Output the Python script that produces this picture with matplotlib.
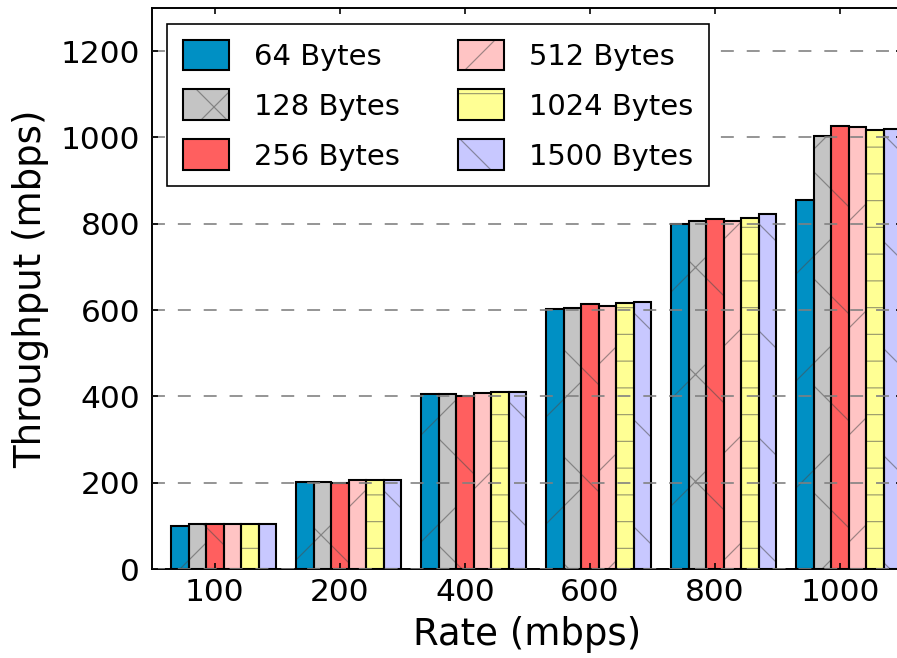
import numpy as np
import matplotlib
matplotlib.use("Agg")
import matplotlib.pyplot as plt
from matplotlib.backend_bases import GraphicsContextBase

# ---- data -------------------------------------------------------------
rates = ["100", "200", "400", "600", "800", "1000"]
sizes = ["64 Bytes", "128 Bytes", "256 Bytes", "512 Bytes", "1024 Bytes", "1500 Bytes"]
tp_64 = [100, 201, 404, 602, 799, 855]
tp_128 = [104, 201, 404, 605, 806, 1003]
tp_256 = [104, 200, 401, 614, 810, 1026]
tp_512 = [104, 205, 407, 609, 806, 1023]
tp_1024 = [103, 206, 410, 616, 813, 1016]
tp_1500 = [105, 207, 409, 618, 821, 1019]
y_ticks = [0, 200, 400, 600, 800, 1000, 1200]

series = [tp_64, tp_128, tp_256, tp_512, tp_1024, tp_1500]
colors = ["#0090c4", "#c4c4c4", "#ff5f5f", "#ffc4c4", "#ffff94", "#c8c8ff"]
hatches = ["/", "x", "\\", "/", "--", "\\"]

# coarser hatch tiles than the library default
_hatch_path = GraphicsContextBase.get_hatch_path


def _coarse_hatch_path(self, density=2.0):
    return _hatch_path(self, density)


GraphicsContextBase.get_hatch_path = _coarse_hatch_path

plt.rcParams.update({
    "font.family": "DejaVu Sans",
    "font.size": 21,
    "hatch.linewidth": 0.8,
    "lines.scale_dashes": False,
    "xtick.direction": "in",
    "ytick.direction": "in",
    "xtick.top": True,
    "ytick.right": True,
    "xtick.major.size": 4,
    "ytick.major.size": 4,
    "xtick.major.pad": 6,
    "ytick.major.pad": 8,
    "axes.linewidth": 1.3,
})

DPI = 107
W, H = 897, 658
fig = plt.figure(figsize=((W + 0.4) / DPI, (H + 0.4) / DPI), dpi=DPI)
ax = fig.add_axes([152 / W, 89 / H, 750 / W, 561 / H])

width = 0.14
x = np.arange(len(rates))
hatch_col = (0.3, 0.3, 0.3, 0.55)
handles = []
for k, (vals, col, hat) in enumerate(zip(series, colors, hatches)):
    fill = ax.bar(x + k * width, vals, width, align="edge", color=col,
                  edgecolor=hatch_col, linewidth=0, hatch=hat, zorder=1)
    edge = ax.bar(x + k * width, vals, width, align="edge", fill=False,
                  edgecolor="black", linewidth=1.4, zorder=1.1)
    handles.append((fill.patches[0], edge.patches[0]))

ax.set_xlim(-0.152, 5.848)
ax.set_ylim(0, 1300)
ax.set_xticks(x + 2.5 * width)
ax.set_xticklabels(rates)
ax.set_yticks(y_ticks)
ax.set_axisbelow(False)
ax.yaxis.grid(True, linestyle=(0, (8.7, 8.7)), color="#808080", linewidth=1.1)
ax.tick_params(width=1.1)

ax.set_xlabel("Rate (mbps)", fontsize=25, labelpad=6)
ax.set_ylabel("Throughput (mbps)", fontsize=25, labelpad=8)

leg = ax.legend(handles, sizes, ncol=2, loc="upper left", fontsize=19.5,
                bbox_to_anchor=(167 / W, 1 - 24 / H), bbox_transform=fig.transFigure,
                borderaxespad=0, fancybox=False, framealpha=1, edgecolor="black",
                handlelength=1.6, handleheight=1.25, handletextpad=0.85,
                columnspacing=2.0, labelspacing=0.65, borderpad=0.55)
leg.get_frame().set_linewidth(1.1)
leg.set_zorder(5)

fig.savefig("out.png", dpi=DPI)
